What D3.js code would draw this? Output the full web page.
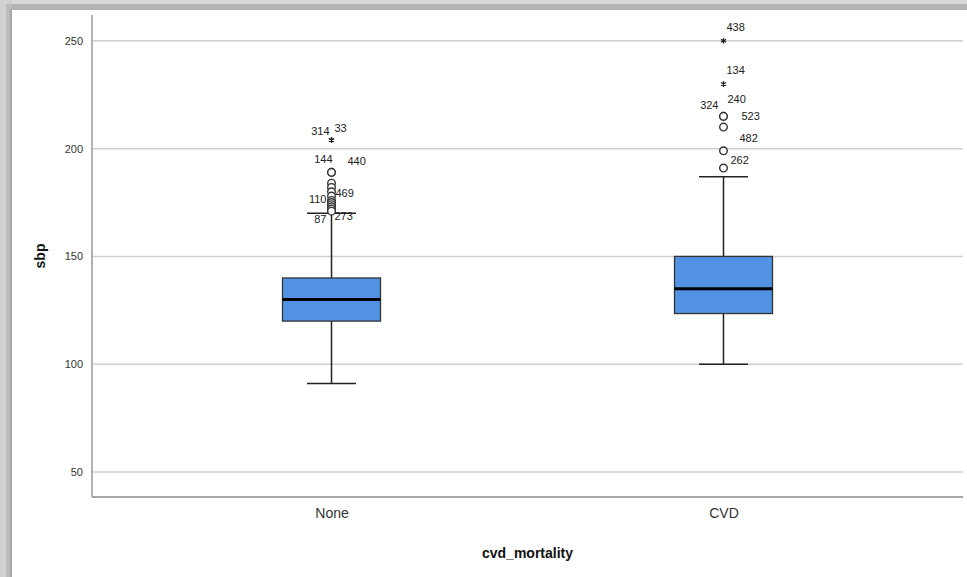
<!DOCTYPE html>
<html>
<meta charset="utf-8">
<style>
    body { margin: 0; background: #fff; }
    svg { display: block; font-family: Arial, "Liberation Sans", sans-serif; }
    .tick text { fill: #333; }
</style>
<body>
<svg width="967" height="577"></svg>
<script src="https://d3js.org/d3.v7.min.js"></script>
<script>

    // values
    const categories = ["None", "CVD"];
    const q1 = [120, 123.5];
    const medians = [130, 135];
    const q3 = [140, 150];
    const whiskerLow = [91, 100];
    const whiskerHigh = [170, 187];
    const yTicks = [50, 100, 150, 200, 250];

    // outliers: group, value, case label ("" = no label drawn), kind
    const outlierGroup = ["None", "None", "None", "None", "None", "None", "None", "None", "None", "None", "None", "None", "None", "None",
        "CVD", "CVD", "CVD", "CVD", "CVD", "CVD", "CVD"];
    const outlierValue = [204, 204, 189, 189, 184, 182, 180, 178, 176, 175, 174, 173, 172, 171,
        250, 230, 215, 215, 210, 199, 191];
    const outlierCase = ["314", "33", "144", "440", "", "", "", "469", "110", "", "", "", "273", "87",
        "438", "134", "324", "240", "523", "482", "262"];
    const outlierKind = ["star", "star", "o", "o", "o", "o", "o", "o", "o", "o", "o", "o", "o", "o",
        "star", "star", "o", "o", "o", "o", "o"];

    // label placement next to the point (dx, dy, anchor)
    const labelPlace = {
        "314": [-2, -5, "end"], "33": [3, -8, "start"],
        "144": [1, -9, "end"], "440": [16, -7, "start"],
        "469": [4, 1, "start"], "110": [-5, 3, "end"],
        "273": [3, 11, "start"], "87": [-5, 12, "end"],
        "438": [3, -10, "start"], "134": [3, -10, "start"],
        "324": [-5, -7, "end"], "240": [4, -13, "start"],
        "523": [18, -7, "start"], "482": [16, -9, "start"],
        "262": [7, -4, "start"]
    };

    let svg = d3.select("svg"),
        plotLeft = 92, plotRight = 963, plotTop = 15, plotBottom = 497;

    // window frame
    svg.append("rect").attr("x", 0).attr("y", 0).attr("width", 967).attr("height", 10).attr("fill", "#d9d9d9");
    svg.append("rect").attr("x", 0).attr("y", 4).attr("width", 967).attr("height", 6).attr("fill", "#b3b3b3");
    svg.append("rect").attr("x", 0).attr("y", 0).attr("width", 12).attr("height", 577).attr("fill", "#d2d2d2");
    svg.append("rect").attr("x", 6).attr("y", 4).attr("width", 6).attr("height", 573).attr("fill", "#bdbdbd");
    svg.append("rect").attr("x", 10).attr("y", 9).attr("width", 2).attr("height", 568).attr("fill", "#a5a5a5");

    let x = d3.scalePoint()
        .domain(categories)
        .range([plotLeft, plotRight])
        .padding(0.611);

    let y = d3.scaleLinear()
        .domain([38.4, 262])
        .range([plotBottom, plotTop]);

    let boxW = x.step() * 0.25;

    // gridlines
    svg.append("g")
        .selectAll("line")
        .data(yTicks)
        .enter().append("line")
        .attr("x1", plotLeft).attr("x2", plotRight)
        .attr("y1", d => y(d)).attr("y2", d => y(d))
        .attr("stroke", "#d0d0d0")
        .attr("stroke-width", 1.5);

    // y axis
    let yAxis = svg.append("g")
        .attr("transform", "translate(" + plotLeft + ",0)")
        .attr("color", "#333")
        .call(d3.axisLeft(y).tickValues(yTicks).tickSize(0).tickPadding(9));
    yAxis.select(".domain").remove();
    yAxis.selectAll("text").attr("font-size", 11).attr("font-family", "Arial, 'Liberation Sans', sans-serif");

    svg.append("line")
        .attr("x1", plotLeft).attr("x2", plotLeft).attr("y1", plotTop).attr("y2", plotBottom)
        .attr("stroke", "#999").attr("stroke-width", 1.5);

    // x axis
    let xAxis = svg.append("g")
        .attr("transform", "translate(0," + plotBottom + ")")
        .attr("color", "#333")
        .call(d3.axisBottom(x).tickSize(0).tickPadding(11));
    xAxis.select(".domain").remove();
    xAxis.selectAll("text").attr("font-size", 14).attr("font-family", "Arial, 'Liberation Sans', sans-serif");

    svg.append("line")
        .attr("x1", plotLeft).attr("x2", plotRight).attr("y1", plotBottom).attr("y2", plotBottom)
        .attr("stroke", "#888").attr("stroke-width", 1.5);

    // boxes
    let boxes = svg.append("g")
        .selectAll("g")
        .data(categories)
        .enter().append("g")
        .attr("transform", d => "translate(" + x(d) + ",0)");

    boxes.append("line")
        .attr("x1", 0).attr("x2", 0)
        .attr("y1", (d, i) => y(whiskerHigh[i]))
        .attr("y2", (d, i) => y(whiskerLow[i]))
        .attr("stroke", "#222").attr("stroke-width", 1.5);

    [whiskerHigh, whiskerLow].forEach(function (arr) {
        boxes.append("line")
            .attr("x1", -boxW / 4).attr("x2", boxW / 4)
            .attr("y1", (d, i) => y(arr[i]))
            .attr("y2", (d, i) => y(arr[i]))
            .attr("stroke", "#222").attr("stroke-width", 1.5);
    });

    boxes.append("rect")
        .attr("x", -boxW / 2)
        .attr("width", boxW)
        .attr("y", (d, i) => y(q3[i]))
        .attr("height", (d, i) => y(q1[i]) - y(q3[i]))
        .attr("fill", "#5192e3")
        .attr("stroke", "#333")
        .attr("stroke-width", 1.3);

    boxes.append("line")
        .attr("x1", -boxW / 2).attr("x2", boxW / 2)
        .attr("y1", (d, i) => y(medians[i]))
        .attr("y2", (d, i) => y(medians[i]))
        .attr("stroke", "#000").attr("stroke-width", 3);

    // outliers
    let outliers = outlierValue.map((v, i) => ({
        group: outlierGroup[i], value: v, label: outlierCase[i], kind: outlierKind[i]
    }));

    let pts = svg.append("g");
    pts.selectAll("circle")
        .data(outliers.filter(d => d.kind === "o"))
        .enter().append("circle")
        .attr("cx", d => x(d.group))
        .attr("cy", d => y(d.value))
        .attr("r", 3.8)
        .attr("fill", "#fff")
        .attr("stroke", "#333")
        .attr("stroke-width", 1.4);

    pts.selectAll("path")
        .data(outliers.filter(d => d.kind === "star"))
        .enter().append("path")
        .attr("transform", d => "translate(" + x(d.group) + "," + y(d.value) + ")")
        .attr("d", d3.symbol(d3.symbolAsterisk, 24))
        .attr("fill", "none")
        .attr("stroke", "#222")
        .attr("stroke-width", 1.2);

    svg.append("g")
        .attr("font-size", 11)
        .attr("fill", "#222")
        .selectAll("text")
        .data(outliers.filter(d => d.label !== ""))
        .enter().append("text")
        .attr("x", d => x(d.group) + labelPlace[d.label][0])
        .attr("y", d => y(d.value) + labelPlace[d.label][1])
        .attr("text-anchor", d => labelPlace[d.label][2])
        .text(d => d.label);

    // axis titles
    svg.append("text")
        .attr("transform", "translate(45," + (plotTop + plotBottom) / 2 + ") rotate(-90)")
        .attr("text-anchor", "middle")
        .attr("font-size", 14)
        .attr("font-weight", "bold")
        .attr("fill", "#111")
        .text("sbp");

    svg.append("text")
        .attr("x", (plotLeft + plotRight) / 2)
        .attr("y", 558)
        .attr("text-anchor", "middle")
        .attr("font-size", 14)
        .attr("font-weight", "bold")
        .attr("fill", "#111")
        .text("cvd_mortality");

</script>
</body>
</html>
